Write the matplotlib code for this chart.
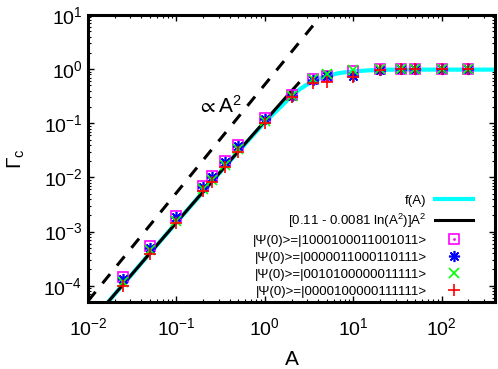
import numpy as np
import matplotlib
matplotlib.use("Agg")
import matplotlib.pyplot as plt
from matplotlib.legend_handler import HandlerTuple

plt.rcParams['font.family'] = ['Liberation Sans', 'DejaVu Sans']
plt.rcParams['mathtext.default'] = 'regular'

# f(A) curve (cyan)
fA_x = [0.01, 0.02, 0.05, 0.1, 0.2, 0.5, 1, 1.5, 2, 2.5, 3, 3.5, 4, 5, 7, 10, 15, 20, 30, 50, 100, 200, 400]
fA_y = [1.85e-5, 6.9e-5, 3.96e-4, 1.47e-3, 5.4e-3, 0.03, 0.105, 0.2, 0.32, 0.43, 0.52, 0.6, 0.66,
        0.75, 0.85, 0.91, 0.95, 0.97, 0.98, 0.98, 0.98, 0.98, 0.98]

# [0.11 - 0.0081 ln(A^2)]A^2 (black)
fit_x = [0.01, 0.02, 0.05, 0.1, 0.2, 0.5, 1, 1.5, 2, 2.4]
fit_y = [1.85e-5, 6.93e-5, 3.96e-4, 1.47e-3, 5.44e-3, 0.0303, 0.11, 0.233, 0.395, 0.55]

# ~A^2 guide (dashed)
guide_x = [0.01, 4.4]
guide_y = [5.2e-5, 10.1]

# simulation points
A = [0.025, 0.05, 0.1, 0.2, 0.25, 0.35, 0.5, 1, 2, 3.5, 5, 10, 20, 35, 50, 100, 200]
g_mag = [1.45e-4, 5.3e-4, 1.95e-3, 7.0e-3, 1.07e-2, 2.0e-2, 3.9e-2, 0.125, 0.33, 0.66, 0.76, 0.91, 0.99, 1.0, 1.0, 1.0, 1.0]
g_blue = [1.35e-4, 5.0e-4, 1.85e-3, 6.7e-3, 1.02e-2, 1.9e-2, 3.75e-2, 0.12, 0.32, 0.64, 0.76, 0.74, 0.98, 1.0, 1.0, 1.0, 1.0]
g_green = [1.15e-4, 4.5e-4, 1.6e-3, 6.0e-3, 9.0e-3, 1.7e-2, 3.3e-2, 0.11, 0.32, 0.67, 0.83, 0.95, 1.0, 1.0, 1.0, 1.0, 1.0]
g_red = [1.0e-4, 3.9e-4, 1.45e-3, 5.5e-3, 8.3e-3, 1.56e-2, 3.0e-2, 0.1, 0.31, 0.55, 0.57, 0.73, 0.98, 1.0, 1.0, 1.0, 1.0]

labels = ["f(A)", "[0.11 - 0.0081 ln(A$^2$)]A$^2$",
          "|\u03a8(0)>=|1000100011001011>",
          "|\u03a8(0)>=|0000011000110111>",
          "|\u03a8(0)>=|0010100000011111>",
          "|\u03a8(0)>=|0000100000111111>"]

fig = plt.figure(figsize=(4.98, 3.69), dpi=100)
ax = fig.add_axes([0.1767, 0.1816, 0.8173, 0.7777])

l_cyan, = ax.plot(fA_x, fA_y, color="#00ffff", lw=3, zorder=2)
l_black, = ax.plot(fit_x, fit_y, color="black", lw=2.2, zorder=3)
ax.plot(guide_x, guide_y, color="black", lw=2.2, dashes=(3.9, 3.6), zorder=3)

p1, = ax.plot(A, g_mag, ls="none", marker="s", ms=7.5, mfc="none", mec="#ff00ff", mew=1.2, zorder=4)
p1d, = ax.plot(A, g_mag, ls="none", marker=".", ms=2, color="#ff00ff", zorder=4)
p2, = ax.plot(A, g_blue, ls="none", marker=(8, 2, 0), ms=8, mec="#0000ff", mew=1.2, zorder=5)
p3, = ax.plot(A, g_green, ls="none", marker="x", ms=7, mec="#00ff00", mew=1.2, zorder=6)
p4, = ax.plot(A, g_red, ls="none", marker="+", ms=8.5, mec="#ff0000", mew=1.2, zorder=7)

ax.set_xscale("log")
ax.set_yscale("log")
ax.set_xlim(0.01, 400)
ax.set_ylim(5e-5, 10)

ax.text(0.322, 0.683, r"$\propto$A$^2$", fontsize=15, ha="center", va="center",
        transform=ax.transAxes)

ax.set_xlabel("A", fontsize=15, labelpad=8)
ax.set_ylabel(r"$\Gamma_c$", fontsize=15, labelpad=12)

for s in ax.spines.values():
    s.set_linewidth(2.2)
ax.tick_params(which="both", direction="in", top=True, right=True, labelsize=14)
ax.tick_params(which="major", length=4.5, width=1.0)
ax.tick_params(which="minor", length=2.5, width=0.8)
ax.tick_params(axis="x", which="major", pad=11)
ax.tick_params(axis="y", which="major", pad=4)

ax.legend([l_cyan, l_black, (p1, p1d), p2, p3, p4], labels,
          handler_map={tuple: HandlerTuple(ndivide=1)},
          loc="lower right", bbox_to_anchor=(0.946, 0.015), borderaxespad=0, borderpad=0,
          frameon=False, markerfirst=False, fontsize=9.5, labelspacing=0.36,
          handlelength=2.9, handletextpad=0.6)

fig.savefig("out.png", dpi=100)
